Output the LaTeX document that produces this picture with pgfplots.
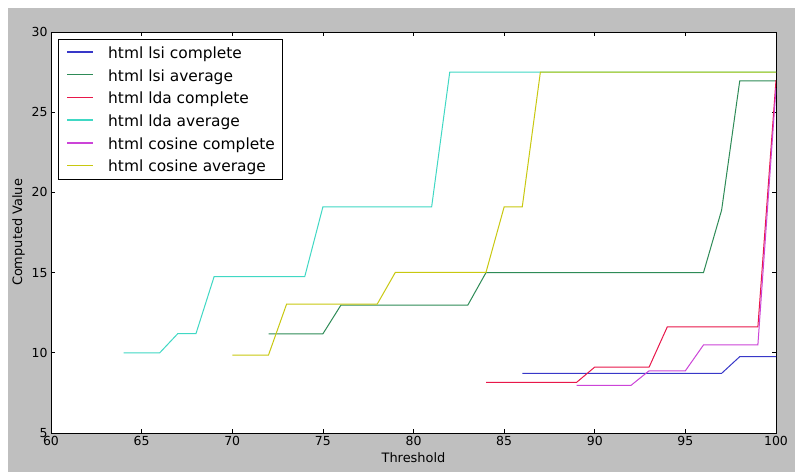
\documentclass[border=0pt]{standalone}
\usepackage{fontspec}
\setmainfont{DejaVu Sans}
\usepackage{pgfplots}
\pgfplotsset{compat=1.18}
\definecolor{figbg}{HTML}{BFBFBF}
\definecolor{cLsiC}{HTML}{3838C8}
\definecolor{cLsiA}{HTML}{2E8B57}
\definecolor{cLdaC}{HTML}{E8174A}
\definecolor{cLdaA}{HTML}{40D8C4}
\definecolor{cCosC}{HTML}{CC44D8}
\definecolor{cCosA}{HTML}{C8C810}

% one legend row: colour, row index, text (legend top-left at 58bp,433bp)
\newcommand\legrow[3]{%
  \pgfmathsetmacro\ly{433-13-22.7*#2}
  \draw[#1, line width=1.6bp] (67bp,\ly bp) -- (93bp,\ly bp);
  \node[anchor=base west, inner sep=0pt, font=\fontsize{15.5}{18}\selectfont]
    at (108bp,\ly bp-6.5bp) {#3};}

\begin{document}
\begin{tikzpicture}
\fill[white] (0,0) rectangle (795bp,472bp);
\fill[figbg] (8bp,0) rectangle (795bp,464bp);
\begin{axis}[
  at={(51bp,39bp)}, anchor=south west,
  scale only axis, width=725bp, height=401bp,
  xmin=60, xmax=100, ymin=5, ymax=30,
  xtick={60,65,...,100}, ytick={5,10,...,30},
  tick align=inside, tick pos=both,
  major tick length=4bp,
  axis line style={black, line width=0.8bp},
  tick style={black, line width=0.6bp},
  axis background/.style={fill=white},
  /pgf/number format/assume math mode=true,
  tick label style={font=\fontsize{12.5}{14}\selectfont},
  label style={font=\fontsize{13}{15}\selectfont},
  xlabel={Threshold}, ylabel={Computed Value},
  xlabel style={at={(0.5,0)}, anchor=center, yshift=-25bp},
  every axis plot/.append style={line width=1bp},
]
\addplot[color=cLsiC] coordinates {(86,8.72)(97,8.72)(98,9.76)(100,9.76)};
\addplot[color=cLsiA] coordinates {(72,11.18)(75,11.18)(76,12.98)(83,12.98)(84,15.0)(96,15.0)(97,18.9)(98,26.96)(100,26.96)};
\addplot[color=cLdaC] coordinates {(84,8.16)(89,8.16)(90,9.11)(93,9.11)(94,11.61)(99,11.61)(100,27.0)};
\addplot[color=cLdaA] coordinates {(64,10.0)(66,10.0)(67,11.2)(68,11.2)(69,14.75)(74,14.75)(75,19.09)(81,19.09)(82,27.5)(100,27.5)};
\addplot[color=cCosC] coordinates {(89,7.97)(92,7.97)(93,8.88)(95,8.88)(96,10.49)(99,10.49)(100,26.5)};
\addplot[color=cCosA] coordinates {(70,9.86)(72,9.86)(73,13.04)(78,13.04)(79,15.02)(84,15.02)(85,19.09)(86,19.09)(87,27.5)(100,27.5)};
\end{axis}
% legend box, upper left of the axis
\draw[black, line width=0.8bp, fill=white] (58bp,433bp) rectangle (282bp,293bp);
\legrow{cLsiC}{0}{html lsi complete}
\legrow{cLsiA}{1}{html lsi average}
\legrow{cLdaC}{2}{html lda complete}
\legrow{cLdaA}{3}{html lda average}
\legrow{cCosC}{4}{html cosine complete}
\legrow{cCosA}{5}{html cosine average}
\end{tikzpicture}
\end{document}
